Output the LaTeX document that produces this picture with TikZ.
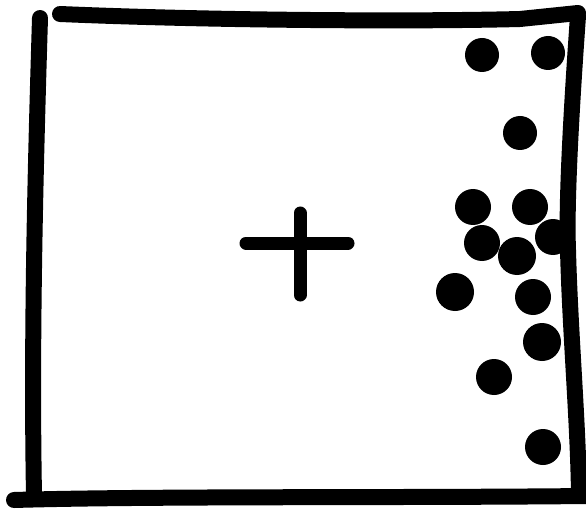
\documentclass[tikz,border=0pt]{standalone}
\begin{document}
\begin{tikzpicture}[x=1pt,y=-1pt,
  stroke/.style={line width=16pt,line cap=round,line join=round,black},
  plusline/.style={line width=13pt,line cap=round,black},
  blob/.style={fill=black}]
\useasboundingbox (0,0) rectangle (586,513);
% frame
\draw[stroke] (40,18) .. controls (36,150) and (31,330) .. (34,495);
\draw[stroke] (60,14) .. controls (200,20) and (400,22) .. (520,19) -- (578,13);
\draw[stroke] (578,16) .. controls (572,100) and (566,200) .. (568,250) .. controls (570,330) and (578,420) .. (579,495);
\draw[stroke] (14,500) .. controls (150,496) and (400,498) .. (586,496);
% plus
\draw[plusline] (246,243) -- (348,243);
\draw[plusline] (300,213) -- (300,295);
% dots
\foreach \px/\py/\r in {482/55/17, 548/53/17, 520/133/17, 473/207/18, 530/207/18,
  482/243/18, 553/237/18, 517/256/19, 455/292/19, 533/297/18, 542/342/19,
  494/377/18, 543/447/18}
  \fill[blob] (\px,\py) circle[radius=\r];
\end{tikzpicture}
\end{document}
